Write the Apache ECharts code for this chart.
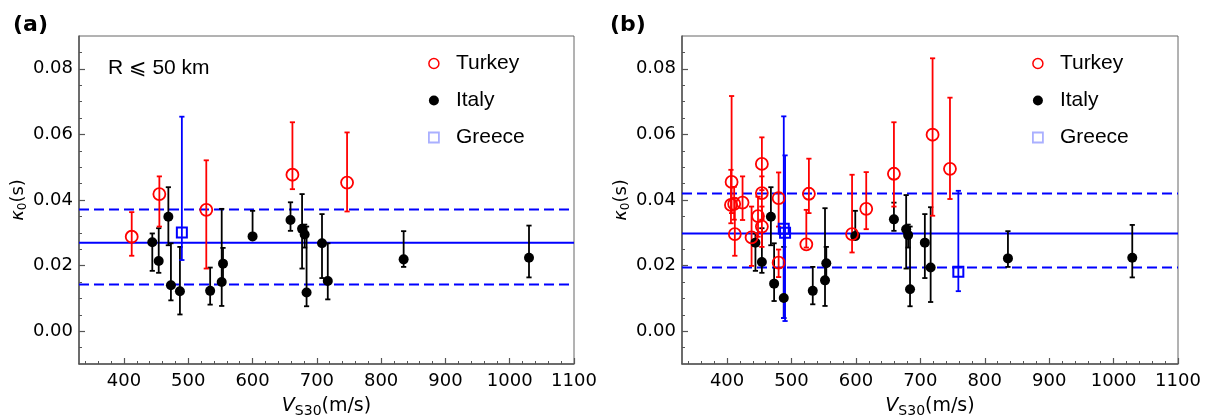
<!DOCTYPE html>
<html>
<head>
<meta charset="utf-8">
<script src="https://cdn.jsdelivr.net/npm/echarts@6/dist/echarts.min.js"></script>
<style>html,body{margin:0;padding:0;background:#fff}#c{width:1219px;height:419px}</style>
</head>
<body>
<div id="c"></div>
<script>
// ---------- DATA ----------
// Panel (a): R <= 50 km
const turkeyA_v  = [412, 455, 528, 662, 747];
const turkeyA_k  = [0.0288, 0.0418, 0.0370, 0.0477, 0.0453];
const turkeyA_lo = [0.0230, 0.0319, 0.0191, 0.0433, 0.0365];
const turkeyA_hi = [0.0363, 0.0472, 0.0521, 0.0637, 0.0606];

const italyA_v  = [444, 454, 469, 473, 487, 534, 552, 554, 600, 659, 677, 681, 684, 708, 717, 835, 1030];
const italyA_k  = [0.0271, 0.0214, 0.0349, 0.0140, 0.0122, 0.0123, 0.0150, 0.0206, 0.0289, 0.0339, 0.0312, 0.0295, 0.0118, 0.0268, 0.0153, 0.0219, 0.0224];
const italyA_lo = [0.0184, 0.0178, 0.0262, 0.0094, 0.0051, 0.0081, 0.0077, 0.0155, 0.0280, 0.0306, 0.0191, 0.0255, 0.0076, 0.0162, 0.0097, 0.0196, 0.0164];
const italyA_hi = [0.0298, 0.0314, 0.0439, 0.0268, 0.0257, 0.0194, 0.0373, 0.0254, 0.0367, 0.0393, 0.0418, 0.0325, 0.0319, 0.0357, 0.0268, 0.0305, 0.0322];

const greeceA_v  = [490];
const greeceA_k  = [0.0301];
const greeceA_lo = [0.0217];
const greeceA_hi = [0.0654];

const refA = {mean: 0.0270, low: 0.0142, high: 0.0371};

// Panel (b): all distances
const turkeyB_v  = [407, 406, 411, 412, 424, 438, 448, 454, 454, 454, 480, 480, 523, 527, 594, 616, 659, 719, 746];
const turkeyB_k  = [0.0455, 0.0385, 0.0388, 0.0296, 0.0392, 0.0286, 0.0351, 0.0510, 0.0421, 0.0319, 0.0406, 0.0209, 0.0265, 0.0419, 0.0296, 0.0373, 0.0480, 0.0599, 0.0495];
const turkeyB_lo = [0.0360, 0.0329, 0.0340, 0.0230, 0.0339, 0.0199, 0.0288, 0.0430, 0.0340, 0.0257, 0.0319, 0.0165, 0.0255, 0.0360, 0.0240, 0.0311, 0.0380, 0.0352, 0.0403];
const turkeyB_hi = [0.0717, 0.0492, 0.0440, 0.0406, 0.0472, 0.0380, 0.0410, 0.0591, 0.0472, 0.0380, 0.0484, 0.0249, 0.0370, 0.0526, 0.0477, 0.0485, 0.0637, 0.0832, 0.0712];

const italyB_v  = [444, 454, 468, 473, 488, 533, 552, 554, 599, 659, 678, 681, 684, 707, 716, 836, 1029];
const italyB_k  = [0.0270, 0.0211, 0.0349, 0.0145, 0.0101, 0.0123, 0.0155, 0.0207, 0.0290, 0.0341, 0.0311, 0.0293, 0.0128, 0.0270, 0.0194, 0.0222, 0.0224];
const italyB_lo = [0.0184, 0.0178, 0.0262, 0.0092, 0.0040, 0.0082, 0.0077, 0.0155, 0.0280, 0.0306, 0.0191, 0.0255, 0.0076, 0.0162, 0.0089, 0.0196, 0.0164];
const italyB_hi = [0.0298, 0.0314, 0.0439, 0.0268, 0.0257, 0.0196, 0.0375, 0.0257, 0.0367, 0.0392, 0.0415, 0.0325, 0.0319, 0.0357, 0.0378, 0.0305, 0.0324];

const greeceB_v  = [488, 490, 759];
const greeceB_k  = [0.0312, 0.0300, 0.0181];
const greeceB_lo = [0.0040, 0.0031, 0.0122];
const greeceB_hi = [0.0655, 0.0536, 0.0428];

const refB = {mean: 0.0298, low: 0.0194, high: 0.0420};

// Axis ranges and ticks
const X_MIN = 330, X_MAX = 1100;
const Y_MIN = -0.01, Y_MAX = 0.09;
const xMajor = [400, 500, 600, 700, 800, 900, 1000, 1100];
const yMajor = [0.00, 0.02, 0.04, 0.06, 0.08];
const xMinor = [];
for (let v = 340; v < X_MAX; v += 20) if (v % 100 !== 0) xMinor.push(v);
const yMinor = [];
for (let i = -1; i <= 17; i++) { if (i % 4 !== 0) yMinor.push(Math.round(i * 5) / 1000); }

// ---------- CHART ----------
const chart = echarts.init(document.getElementById('c'), null, {renderer: 'canvas'});
const TICK_FONT = 'DejaVu Sans';
const LEG_FONT = 'Liberation Sans';
const RED = '#ff0000', BLUE = '#0000ff', BLACK = '#000000';

function pts(v, k) { return v.map((x, i) => [x, k[i]]); }
function errs(v, lo, hi) { return v.map((x, i) => [x, lo[i], hi[i]]); }

function errRender(color) {
  return function (params, api) {
    const x = api.value(0), lo = api.value(1), hi = api.value(2);
    const p1 = api.coord([x, lo]), p2 = api.coord([x, hi]);
    const w = 2.6;
    const st = {stroke: color, lineWidth: 1.8};
    return {type: 'group', children: [
      {type: 'line', shape: {x1: p1[0], y1: p1[1], x2: p2[0], y2: p2[1]}, style: st},
      {type: 'line', shape: {x1: p1[0] - w, y1: p1[1], x2: p1[0] + w, y2: p1[1]}, style: st},
      {type: 'line', shape: {x1: p2[0] - w, y1: p2[1], x2: p2[0] + w, y2: p2[1]}, style: st}
    ]};
  };
}

const grids = [
  {left: 79, top: 36, width: 495, height: 328},
  {left: 682, top: 36, width: 496, height: 328}
];

const xAxes = [], yAxes = [];
grids.forEach((g, i) => {
  xAxes.push({
    type: 'value', gridIndex: i, min: X_MIN, max: X_MAX, position: 'bottom',
    axisLine: {show: true, onZero: false, lineStyle: {color: '#555', width: 1.5}},
    axisTick: {show: true, inside: true, length: 6, customValues: xMajor, lineStyle: {color: '#555', width: 1.2}},
    axisLabel: {customValues: xMajor, fontSize: 18, color: '#000', fontFamily: TICK_FONT, margin: 8,
                formatter: v => String(v)},
    splitLine: {show: false},
    name: '{v|V}{s|S30}{n|(m/s)}', nameLocation: 'middle', nameGap: 30,
    nameTextStyle: {rich: {
      v: {fontSize: 19, fontStyle: 'italic', fontFamily: TICK_FONT, color: '#000', lineHeight: 24, verticalAlign: 'middle'},
      s: {fontSize: 14, fontFamily: TICK_FONT, color: '#000', lineHeight: 14, verticalAlign: 'bottom'},
      n: {fontSize: 19, fontFamily: TICK_FONT, color: '#000', lineHeight: 24, verticalAlign: 'middle'}
    }}
  });
  xAxes.push({
    type: 'value', gridIndex: i, min: X_MIN, max: X_MAX, position: 'bottom',
    axisLine: {show: false, onZero: false},
    axisTick: {show: true, inside: true, length: 3, customValues: xMinor, lineStyle: {color: '#555', width: 1}},
    axisLabel: {show: false}, splitLine: {show: false}
  });
  yAxes.push({
    type: 'value', gridIndex: i, min: Y_MIN, max: Y_MAX, position: 'left',
    axisLine: {show: true, onZero: false, lineStyle: {color: '#555', width: 1.5}},
    axisTick: {show: true, inside: true, length: 6, customValues: yMajor, lineStyle: {color: '#555', width: 1.2}},
    axisLabel: {customValues: yMajor, fontSize: 18, color: '#000', fontFamily: TICK_FONT, margin: 6,
                formatter: v => Number(v).toFixed(2)},
    splitLine: {show: false},
    name: '{k|κ}{s|0}{n|(s)}', nameLocation: 'middle', nameGap: 48, nameRotate: 90,
    nameTextStyle: {rich: {
      k: {fontSize: 18, fontStyle: 'italic', fontFamily: TICK_FONT, color: '#000', lineHeight: 22, verticalAlign: 'middle'},
      s: {fontSize: 12, fontFamily: TICK_FONT, color: '#000', lineHeight: 12, verticalAlign: 'bottom'},
      n: {fontSize: 18, fontFamily: TICK_FONT, color: '#000', lineHeight: 22, verticalAlign: 'middle'}
    }}
  });
  yAxes.push({
    type: 'value', gridIndex: i, min: Y_MIN, max: Y_MAX, position: 'left',
    axisLine: {show: false, onZero: false},
    axisTick: {show: true, inside: true, length: 3, customValues: yMinor, lineStyle: {color: '#555', width: 1}},
    axisLabel: {show: false}, splitLine: {show: false}
  });
});

const panels = [
  {t: [turkeyA_v, turkeyA_k, turkeyA_lo, turkeyA_hi], it: [italyA_v, italyA_k, italyA_lo, italyA_hi],
   g: [greeceA_v, greeceA_k, greeceA_lo, greeceA_hi], ref: refA},
  {t: [turkeyB_v, turkeyB_k, turkeyB_lo, turkeyB_hi], it: [italyB_v, italyB_k, italyB_lo, italyB_hi],
   g: [greeceB_v, greeceB_k, greeceB_lo, greeceB_hi], ref: refB}
];

const series = [];
panels.forEach((p, i) => {
  const ax = {xAxisIndex: 2 * i, yAxisIndex: 2 * i};
  [[p.ref.mean, 'solid'], [p.ref.high, [10, 5]], [p.ref.low, [10, 5]]].forEach(([val, type]) => {
    series.push(Object.assign({
      type: 'line', data: [[X_MIN, val], [X_MAX, val]], symbol: 'none', silent: true, z: 1,
      lineStyle: {color: BLUE, width: 2, type: type}, animation: false
    }, ax));
  });
  series.push(Object.assign({type: 'custom', renderItem: errRender(BLACK), data: errs(p.it[0], p.it[2], p.it[3]),
    encode: {x: 0, y: [1, 2]}, z: 2, silent: true}, ax));
  series.push(Object.assign({type: 'custom', renderItem: errRender(RED), data: errs(p.t[0], p.t[2], p.t[3]),
    encode: {x: 0, y: [1, 2]}, z: 2, silent: true}, ax));
  series.push(Object.assign({type: 'custom', renderItem: errRender(BLUE), data: errs(p.g[0], p.g[2], p.g[3]),
    encode: {x: 0, y: [1, 2]}, z: 2, silent: true}, ax));
  series.push(Object.assign({name: 'Turkey', type: 'scatter', data: pts(p.t[0], p.t[1]), symbol: 'circle', symbolSize: 12,
    itemStyle: {color: 'rgba(0,0,0,0)', borderColor: RED, borderWidth: 1.8, opacity: 1}, z: 4}, ax));
  series.push(Object.assign({name: 'Italy', type: 'scatter', data: pts(p.it[0], p.it[1]), symbol: 'circle', symbolSize: 10,
    itemStyle: {color: BLACK, opacity: 1}, z: 3}, ax));
  series.push(Object.assign({name: 'Greece', type: 'scatter', data: pts(p.g[0], p.g[1]), symbol: 'rect', symbolSize: 10,
    itemStyle: {color: 'rgba(0,0,0,0)', borderColor: BLUE, borderWidth: 2, opacity: 1}, z: 5}, ax));
});

function legendAt(left) {
  return {
    orient: 'vertical', left: left, top: 48, itemGap: 16, itemWidth: 34, itemHeight: 10,
    selectedMode: false, symbolKeepAspect: true,
    textStyle: {fontSize: 21, fontFamily: LEG_FONT, color: '#000', lineHeight: 21, padding: [0, 0, 0, 0]},
    data: [
      {name: 'Turkey', icon: 'circle', itemStyle: {color: 'rgba(0,0,0,0)', borderColor: RED, borderWidth: 1.5}},
      {name: 'Italy', icon: 'circle', itemStyle: {color: BLACK, borderWidth: 0}},
      {name: 'Greece', icon: 'path://M0,0L10,0L10,10L0,10Z', itemStyle: {color: 'rgba(0,0,0,0)', borderColor: '#aab0ff', borderWidth: 1.8}}
    ]
  };
}

chart.setOption({
  animation: false,
  backgroundColor: '#fff',
  grid: grids.map(g => Object.assign({show: true, borderColor: '#666', borderWidth: 1, backgroundColor: 'transparent',
    containLabel: false, outerBoundsMode: 'none'}, g)),
  xAxis: xAxes,
  yAxis: yAxes,
  legend: [legendAt(423), legendAt(1027)],
  graphic: [
    {type: 'text', left: 13, top: 14, style: {text: '(a)', font: 'bold 22px "DejaVu Sans"', fill: '#000'}},
    {type: 'text', left: 610, top: 14, style: {text: '(b)', font: 'bold 22px "DejaVu Sans"', fill: '#000'}},
    {type: 'text', left: 108, top: 58, style: {text: 'R ⩽ 50 km', font: '21px "Liberation Sans", "DejaVu Sans"', fill: '#000'}}
  ],
  series: series
});
</script>
</body>
</html>
